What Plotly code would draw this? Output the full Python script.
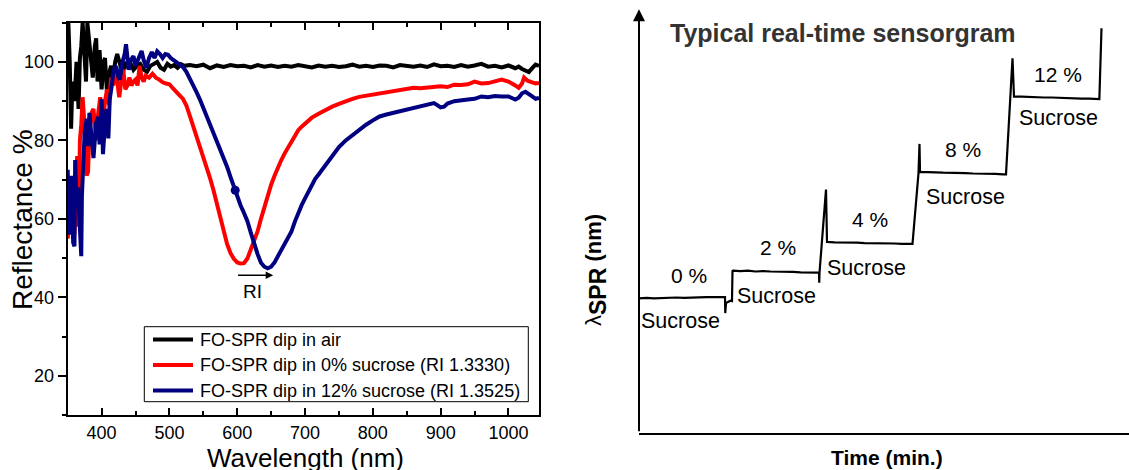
import plotly.graph_objects as go

FONT = "Liberation Sans, Arial, sans-serif"

# ---------------- Left panel data: reflectance spectra ----------------
air_wl = [350, 351, 353, 355, 357, 360, 363, 366, 368, 370, 372, 374, 377, 379, 381, 383, 387, 390,
          392, 394, 397, 400, 403, 405, 408, 411, 414, 417, 420, 423, 427, 431, 435, 439, 443, 447,
          452, 457, 462, 467, 472, 477, 482, 487, 492, 497, 502, 507, 512, 517, 522, 530, 540, 550,
          560, 570, 580, 590, 600, 610, 620, 630, 640, 650, 660, 670, 680, 690, 700, 710, 720, 730,
          740, 750, 760, 770, 780, 790, 800, 810, 820, 830, 840, 850, 860, 870, 880, 890, 900, 910,
          920, 930, 940, 950, 960, 970, 980, 990, 1000, 1010, 1015, 1020, 1025, 1030, 1035, 1040, 1045]
air_refl = [108, 110, 100, 83, 95, 90, 100, 88, 101, 104, 110, 105, 95, 110, 106, 103, 96, 104,
            106, 95, 103, 93, 100, 101, 92, 97, 99, 96, 100, 102, 99, 97, 100, 98.5, 99.5, 98,
            99, 99.5, 98, 97.5, 99, 99.5, 100, 98.5, 98, 99.5, 98.8, 99.2, 98.5, 99.4, 99, 99.2, 98.9, 99.3,
            98.4, 99.1, 98.7, 99.2, 98.9, 99.0, 98.6, 99.2, 98.8, 99.1, 98.7, 99.0, 98.8, 99.2, 98.9, 98.6, 99.1, 98.8,
            99.0, 98.7, 98.9, 99.3, 98.8, 99.0, 98.7, 99.1, 99.0, 98.6, 99.2, 98.9, 98.8, 99.1, 98.7, 99.4, 98.9, 99.0,
            98.7, 99.2, 98.8, 99.1, 99.5, 98.8, 99.0, 98.6, 99.1, 98.4, 98.8, 98.2, 97.8, 97.4, 98.4, 99.3, 99.0]

suc0_wl = [350, 352, 354, 356, 358, 360, 362, 364, 366, 368, 370, 372, 374, 376, 378, 380, 382, 385,
           388, 390, 392, 395, 398, 400, 403, 405, 408, 411, 414, 417, 420, 423, 426, 429, 432, 435,
           438, 441, 444, 447, 450, 453, 456, 459, 462, 465, 470, 475, 480, 485, 490, 495,
           500, 505, 510, 515, 520, 525, 530, 535, 540, 545, 550, 555, 560, 565, 570, 575, 580, 585,
           590, 595, 600, 605, 610, 615, 620, 625, 630, 635, 640, 645, 650, 655, 660, 665, 670, 675,
           680, 685, 690, 695, 700, 710, 720, 730, 740, 750, 760, 770, 780, 790, 800, 810, 820, 830,
           840, 850, 860, 870, 880, 890, 900, 910, 920, 930, 940, 950, 960, 970, 980, 990, 1000, 1005,
           1010, 1015, 1020, 1023, 1028, 1035, 1040, 1045]
suc0_refl = [55, 58, 62, 69, 63, 56, 70, 76, 58, 80, 84, 91, 86, 80, 71, 72, 82, 87,
             88, 84, 80, 87, 91, 89, 86, 90, 93, 89, 96, 94, 97, 95, 91, 95, 98, 93,
             94, 96, 94, 95, 95.5, 94, 99, 96, 95, 96.5, 96, 97, 96, 95.5, 94.8, 94.5,
             94.3, 93.3, 92.2, 91.5, 90.6, 88.9, 86.3, 83.7, 81, 78.5, 76, 73.4, 70.3, 67.3, 63.8, 60.2, 56.5, 53.6,
             51.3, 49.8, 48.9, 48.6, 48.7, 49.9, 52.2, 54.5, 56.8, 60, 63, 66, 68.7, 71, 73.2, 75, 76.7, 78.2,
             79.9, 81.3, 82.6, 83.5, 84.2, 85.8, 86.8, 87.8, 88.6, 89.3, 90, 90.6, 91.1, 91.4, 91.7, 92, 92.1, 92.6,
             92.9, 93.1, 93.4, 93.3, 93.4, 93.7, 93.8, 93.6, 94.2, 94.1, 94.3, 95.0, 94.5, 94.6, 95.0, 95.5, 95.0, 94.6,
             94.0, 93.4, 94.5, 96.0, 95.2, 94.8, 94.5, 94.6]

suc12_wl = [350, 352, 354, 356, 358, 360, 361, 363, 365, 367, 369, 370, 371, 373, 375, 378, 380, 382,
            385, 388, 390, 392, 395, 397, 400, 402, 405, 407, 410, 412, 415, 417, 420, 422, 425, 427,
            430, 432, 434, 436, 438, 440, 443, 447, 450, 453, 456, 459, 462, 466, 470, 474, 478, 482,
            486, 490, 494, 498, 502, 506, 510, 515, 520, 525, 530, 535, 540, 545, 550, 555, 560, 565,
            570, 575, 580, 585, 590, 597, 600, 605, 610, 615, 620, 625, 630, 635, 640, 645, 650, 655,
            660, 665, 670, 675, 680, 685, 690, 695, 700, 705, 710, 715, 720, 725, 730, 740, 750, 760,
            770, 780, 790, 800, 810, 820, 830, 840, 850, 860, 870, 880, 890, 895, 900, 905, 910, 920,
            930, 940, 950, 960, 970, 980, 990, 1000, 1005, 1010, 1015, 1020, 1025, 1030, 1035, 1040, 1045]
suc12_refl = [72.5, 56, 62, 71, 54, 53, 75, 63, 68, 60, 52, 50.5, 66, 76, 82, 85.5, 78.5, 87,
              82, 75.5, 80, 84.5, 86, 79, 90.5, 76.5, 84, 88, 80.5, 90.5, 94, 97, 99, 98.5, 96, 95.5,
              99.5, 100.5, 102, 104.5, 100, 98, 100.5, 101.5, 99, 100.5, 102, 102.8, 100.5, 98.5, 101, 102.5, 101, 102.7,
              102, 101, 102, 101.8, 101, 100.5, 100.2, 99.3, 98.7, 97.5, 95.9, 94.1, 92.3, 90.4, 88.3, 86.1, 84, 81.8,
              79.6, 77.5, 75.5, 73.3, 70.7, 67.3, 65.5, 63.4, 61.5, 59.4, 56.5, 53.5, 51, 48.8, 47.8, 47.4, 47.8, 48.9,
              50.4, 51.9, 53.4, 54.9, 56.8, 59.3, 61.5, 63.5, 65.2, 66.9, 68.5, 70.2, 71.3, 72.5, 73.8, 76, 78.3, 80,
              81.4, 82.8, 84, 85.1, 86.1, 86.6, 87.0, 87.5, 87.9, 88.2, 88.7, 89.1, 89.5, 89.0, 88.4, 88.6, 89.4, 90.0,
              90.1, 90.4, 90.6, 91.2, 91.0, 91.3, 91.2, 91.2, 90.8, 90.4, 90.9, 92.0, 92.4, 91.9, 91.2, 90.6, 90.8]

marker_wl = [597]
marker_refl = [67.3]

legend_names = ["FO-SPR dip in air",
                "FO-SPR dip in 0% sucrose (RI 1.3330)",
                "FO-SPR dip in 12% sucrose (RI 1.3525)"]
legend_colors = ["black", "#FF0000", "#000080"]
x_ticks = [400, 500, 600, 700, 800, 900, 1000]
y_ticks = [20, 40, 60, 80, 100]

# ---------------- Right panel data: sensorgram (arbitrary units) ----------------
sens_t = [0, 1.5, 3, 4.5, 6, 7.5, 9, 10.5, 12, 13.5, 15, 16.5, 17.2,
          17.25, 17.4, 17.8, 18.3, 18.6, 18.7,
          18.8, 20.3, 21.8, 23.3, 24.8, 26.3, 27.8, 29.3, 30.8, 32.3, 33.8, 35.3, 36.0,
          36.05, 36.1, 37.4, 37.5,
          37.6, 39.1, 40.6, 42.1, 43.6, 45.1, 46.6, 48.1, 49.6, 51.1, 52.6, 54.1, 54.7,
          55.9, 56.1, 56.2,
          56.3, 57.8, 59.3, 60.8, 62.3, 63.8, 65.3, 66.8, 68.3, 69.8, 71.3, 72.8, 73.4,
          74.7, 74.9,
          75.0, 76.5, 78.0, 79.5, 81.0, 82.5, 84.0, 85.5, 87.0, 88.5, 90.0, 91.5, 92.07,
          92.5]
sens_lam = [33.6, 33.7, 33.6, 33.7, 33.7, 33.8, 33.7, 33.8, 33.8, 33.9, 33.9, 34.0, 33.9,
            29.9, 32.4, 32.7, 33.0, 32.9, 40.6,
            40.5, 40.4, 40.5, 40.3, 40.4, 40.3, 40.3, 40.2, 40.2, 40.1, 40.1, 40.0, 40.0,
            37.5, 40.0, 60.8, 47.8,
            47.7, 47.6, 47.6, 47.5, 47.5, 47.4, 47.4, 47.3, 47.3, 47.3, 47.2, 47.2, 47.2,
            64.9, 72.2, 65.2,
            65.2, 65.1, 65.1, 65.0, 65.0, 64.9, 64.9, 64.8, 64.8, 64.7, 64.7, 64.6, 64.6,
            93.6, 84.0,
            84.0, 84.0, 83.9, 83.9, 83.8, 83.8, 83.7, 83.7, 83.6, 83.5, 83.5, 83.4, 83.4,
            101.1]

pct_labels = ["0 %", "2 %", "4 %", "8 %", "12 %"]
pct_t = [10.0, 27.8, 46.2, 64.8, 83.8]
pct_lam = [39.25, 46.25, 53.3, 70.8, 89.6]
suc_t = [8.3, 27.6, 45.6, 65.4, 83.9]
suc_lam = [27.9, 34.3, 41.25, 59.0, 78.75]

W, H = 1129, 470

fig = go.Figure()
series = [(air_wl, air_refl), (suc0_wl, suc0_refl), (suc12_wl, suc12_refl)]
for (wl, rf), name, col in zip(series, legend_names, legend_colors):
    fig.add_trace(go.Scatter(x=wl, y=rf, mode="lines", name=name, showlegend=False,
                             line=dict(color=col, width=4), xaxis="x", yaxis="y"))
fig.add_trace(go.Scatter(x=marker_wl, y=marker_refl, mode="markers", showlegend=False,
                         marker=dict(color="#000080", size=9), xaxis="x", yaxis="y"))
fig.add_trace(go.Scatter(x=sens_t, y=sens_lam, mode="lines", showlegend=False,
                         line=dict(color="black", width=2.2), xaxis="x2", yaxis="y2"))

annotations = []
shapes = []

# Legend box (drawn manually to match the reference layout)
shapes.append(dict(type="rect", xref="paper", yref="paper",
                   x0=144.3 / W, x1=528.3 / W, y0=1 - 401.7 / H, y1=1 - 326.7 / H,
                   line=dict(color="black", width=1), fillcolor="white", layer="above"))
legend_rows = [339.5, 365.0, 390.5]
for name, col, ry in zip(legend_names, legend_colors, legend_rows):
    shapes.append(dict(type="line", xref="paper", yref="paper",
                       x0=153 / W, x1=193 / W, y0=1 - ry / H, y1=1 - ry / H,
                       line=dict(color=col, width=4), layer="above"))
    annotations.append(dict(x=198 / W, y=1 - ry / H, xref="paper", yref="paper", text=name,
                            showarrow=False, font=dict(family=FONT, size=18, color="black"),
                            xanchor="left", yanchor="middle"))

# RI arrow + label
annotations.append(dict(x=653, y=45.6, ax=599, ay=45.6, xref="x", yref="y", axref="x", ayref="y",
                        text="", showarrow=True, arrowhead=2, arrowsize=1, arrowwidth=1.5,
                        arrowcolor="black", standoff=0))
annotations.append(dict(x=622, y=41.6, xref="x", yref="y", text="RI", showarrow=False,
                        font=dict(family=FONT, size=19, color="black"), xanchor="center", yanchor="middle"))
# Left axis titles
annotations.append(dict(x=305.3 / W, y=1 - 458 / H, xref="paper", yref="paper", text="Wavelength (nm)",
                        showarrow=False, font=dict(family=FONT, size=26, color="black"),
                        xanchor="center", yanchor="middle"))
annotations.append(dict(x=22 / W, y=1 - 220 / H, xref="paper", yref="paper", text="Reflectance %",
                        showarrow=False, textangle=-90, font=dict(family=FONT, size=28, color="black"),
                        xanchor="center", yanchor="middle"))
# Right panel: axis arrow (y axis)
annotations.append(dict(x=0, y=105.85, ax=0, ay=0, xref="x2", yref="y2", axref="x2", ayref="y2",
                        text="", showarrow=True, arrowhead=2, arrowsize=1.2, arrowwidth=2,
                        arrowcolor="black", standoff=0))
annotations.append(dict(x=842.5 / W, y=1 - 33 / H, xref="paper", yref="paper",
                        text="<b>Typical real-time sensorgram</b>", showarrow=False,
                        font=dict(family=FONT, size=25, color="#333333"),
                        xanchor="center", yanchor="middle"))
annotations.append(dict(x=887 / W, y=1 - 457.7 / H, xref="paper", yref="paper",
                        text="<b>Time (min.)</b>", showarrow=False,
                        font=dict(family=FONT, size=21, color="black"),
                        xanchor="center", yanchor="middle"))
annotations.append(dict(x=596 / W, y=1 - 270 / H, xref="paper", yref="paper",
                        text="λ<sub><span style='font-size:23px;font-weight:bold'>SPR</span></sub><b> (nm)</b>",
                        showarrow=False, textangle=-90,
                        font=dict(family=FONT, size=22, color="black"),
                        xanchor="center", yanchor="middle"))
for lab, t, l in zip(pct_labels, pct_t, pct_lam):
    annotations.append(dict(x=t, y=l, xref="x2", yref="y2", text=lab, showarrow=False,
                            font=dict(family=FONT, size=21, color="black"),
                            xanchor="center", yanchor="middle"))
for t, l in zip(suc_t, suc_lam):
    annotations.append(dict(x=t, y=l, xref="x2", yref="y2", text="Sucrose", showarrow=False,
                            font=dict(family=FONT, size=21.5, color="black"),
                            xanchor="center", yanchor="middle"))

left_x_dom = [67.7 / W, 539 / W]
left_y_dom = [1 - 415 / H, 1 - 22.7 / H]

fig.update_layout(
    width=W, height=H,
    margin=dict(l=0, r=0, t=0, b=0),
    paper_bgcolor="white", plot_bgcolor="white",
    font=dict(family=FONT, color="black"),
    showlegend=False,
    xaxis=dict(domain=left_x_dom, range=[350, 1045], anchor="y",
               tickmode="array", tickvals=x_ticks, ticks="inside", ticklen=7, tickwidth=1.5,
               tickcolor="black", mirror="ticks", showline=True, linewidth=2, linecolor="black",
               showgrid=False, zeroline=False, tickfont=dict(family=FONT, size=18, color="black"),
               ticklabelstandoff=0,
               minor=dict(dtick=50, tick0=350, ticks="inside", ticklen=4, tickwidth=1.5, tickcolor="black")),
    yaxis=dict(domain=left_y_dom, range=[10, 110], anchor="x",
               tickmode="array", tickvals=y_ticks, ticks="outside", ticklen=8, tickwidth=1.5,
               tickcolor="black", mirror=True, showline=True, linewidth=2, linecolor="black",
               showgrid=False, zeroline=False, tickfont=dict(family=FONT, size=18, color="black"),
               minor=dict(dtick=10, tick0=10, ticks="outside", ticklen=4, tickwidth=1.5, tickcolor="black")),
    yaxis3=dict(overlaying="y", side="right", anchor="x", range=[10, 110],
                tickmode="array", tickvals=y_ticks, ticks="inside", ticklen=6, tickwidth=1.5,
                tickcolor="black", showticklabels=False, showline=False, showgrid=False, zeroline=False,
                minor=dict(dtick=10, tick0=10, ticks="inside", ticklen=4, tickwidth=1.5, tickcolor="black")),
    xaxis2=dict(domain=[639 / W, 1.0], range=[0, 98], anchor="y2",
                showline=True, linewidth=2, linecolor="black", showticklabels=False,
                ticks="", showgrid=False, zeroline=False),
    yaxis2=dict(domain=[1 - 432.7 / H, 1 - 9.3 / H], range=[0, 105.85], anchor="x2",
                showline=False, showticklabels=False, ticks="", showgrid=False, zeroline=False),
    annotations=annotations,
    shapes=shapes,
)

fig.write_html(
    "out.html",
    config={"displayModeBar": False},
    post_script="document.body.style.margin='0';document.body.style.padding='0';"
                "document.documentElement.style.overflow='hidden';",
)
